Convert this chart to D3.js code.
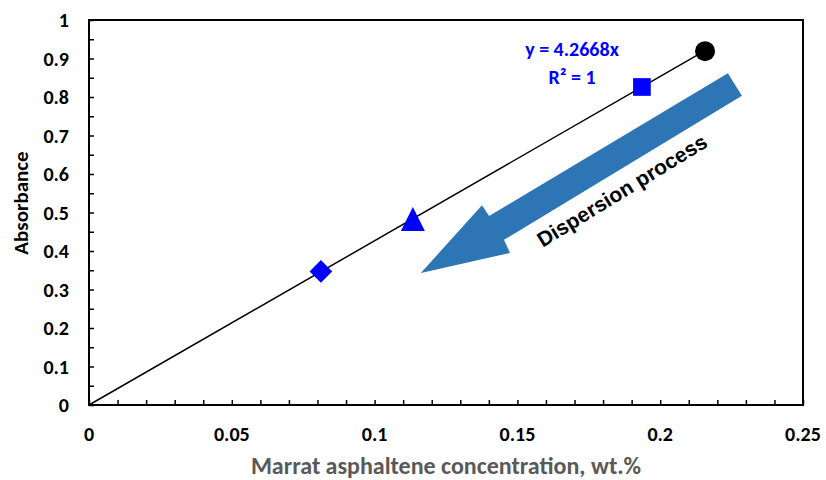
<!DOCTYPE html>
<html lang="en">
<head>
    <meta charset="UTF-8">
    <title>Absorbance vs concentration</title>
    <script src="https://d3js.org/d3.v7.min.js"></script>
    <style>
        body { margin: 0; background: #fff; }
        text { font-family: Calibri, Carlito, Lato, sans-serif; font-weight: bold; }
        .tick-label { font-size: 20px; fill: #000; }
        .frame { fill: none; stroke: #000; stroke-width: 2px; }
    </style>
</head>
<body>
    <svg width="826" height="480"></svg>
    <script>
        // measured points (concentration wt.%, absorbance)
        const conc = [0.2157, 0.1936, 0.1134, 0.0812];
        const absorb = [0.919, 0.826, 0.483, 0.347];
        const symbols = ["circle", "square", "triangle", "diamond"];
        const colors = ["#000000", "#0000ff", "#0000ff", "#0000ff"];

        const slope = 4.2668;
        const fitRange = [0, 0.2157];

        const xTicks = [0, 0.05, 0.1, 0.15, 0.2, 0.25];
        const yTicks = [0, 0.1, 0.2, 0.3, 0.4, 0.5, 0.6, 0.7, 0.8, 0.9, 1];

        // arrow outline in data units
        const arrowX = [0.2237, 0.2286, 0.1453, 0.1474, 0.1162, 0.1376, 0.1401];
        const arrowY = [0.862, 0.803, 0.429, 0.395, 0.343, 0.519, 0.491];

        const margin = { left: 89, right: 23, top: 20, bottom: 75 };
        const width = 826, height = 480;

        const svg = d3.select("svg");

        const x = d3.scaleLinear().domain([0, 0.25]).range([margin.left, width - margin.right]);
        const y = d3.scaleLinear().domain([0, 1]).range([height - margin.bottom, margin.top]);

        // inside ticks
        const xMinor = d3.range(0, 0.2501, 0.01);
        const yMinor = d3.range(0, 1.0001, 0.05);

        svg.append("g")
            .attr("transform", "translate(0," + y(0) + ")")
            .call(d3.axisBottom(x).tickValues(xMinor).tickSize(-5).tickFormat(""))
            .call(g => g.select(".domain").remove())
            .selectAll("line").attr("stroke", "#000").attr("stroke-width", 1.5);

        svg.append("g")
            .attr("transform", "translate(" + x(0) + ",0)")
            .call(d3.axisLeft(y).tickValues(yMinor).tickSize(-5).tickFormat(""))
            .call(g => g.select(".domain").remove())
            .selectAll("line").attr("stroke", "#000").attr("stroke-width", 1.5);

        // tick labels
        svg.selectAll(".xl")
            .data(xTicks)
            .enter().append("text")
            .attr("class", "tick-label")
            .attr("x", d => x(d))
            .attr("y", 441)
            .attr("text-anchor", "middle")
            .text(d => d);

        svg.selectAll(".yl")
            .data(yTicks)
            .enter().append("text")
            .attr("class", "tick-label")
            .attr("x", 69)
            .attr("y", d => y(d))
            .attr("dy", "0.35em")
            .attr("text-anchor", "end")
            .text(d => d);

        // frame
        svg.append("rect")
            .attr("class", "frame")
            .attr("x", x(0))
            .attr("y", y(1))
            .attr("width", x(0.25) - x(0))
            .attr("height", y(0) - y(1));

        // trend line
        svg.append("line")
            .attr("x1", x(fitRange[0])).attr("y1", y(slope * fitRange[0]))
            .attr("x2", x(fitRange[1])).attr("y2", y(slope * fitRange[1]))
            .attr("stroke", "#000").attr("stroke-width", 1.5);

        // arrow
        svg.append("polygon")
            .attr("points", arrowX.map((d, i) => x(d) + "," + y(arrowY[i])).join(" "))
            .attr("fill", "#2e75b6");

        svg.append("text")
            .attr("transform", "translate(" + x(0.1866) + "," + y(0.557) + ") rotate(-31.5)")
            .attr("text-anchor", "middle")
            .attr("dy", "0.35em")
            .style("font-family", "'Liberation Sans', Arial, sans-serif")
            .style("font-size", "21px")
            .attr("fill", "#000")
            .text("Dispersion process");

        // markers
        const tri = {
            draw(ctx, size) {
                const h = Math.sqrt(size);
                ctx.moveTo(0, -h / 2);
                ctx.lineTo(h / 2, h / 2);
                ctx.lineTo(-h / 2, h / 2);
                ctx.closePath();
            }
        };
        const symType = { circle: d3.symbolCircle, square: d3.symbolSquare, triangle: tri, diamond: d3.symbolSquare };
        const symSize = { circle: 314, square: 313, triangle: 576, diamond: 256 };

        svg.selectAll(".pt")
            .data(conc)
            .enter().append("path")
            .attr("transform", (d, i) => "translate(" + x(d) + "," + y(absorb[i]) + ")" + (symbols[i] === "diamond" ? " rotate(45)" : ""))
            .attr("d", (d, i) => d3.symbol(symType[symbols[i]], symSize[symbols[i]])())
            .attr("fill", (d, i) => colors[i]);

        // equation
        svg.append("text")
            .attr("x", 572).attr("y", 56)
            .attr("text-anchor", "middle")
            .attr("fill", "#0000ff")
            .style("font-size", "20px")
            .text("y = " + slope + "x");
        svg.append("text")
            .attr("x", 572).attr("y", 84)
            .attr("text-anchor", "middle")
            .attr("fill", "#0000ff")
            .style("font-size", "20px")
            .text("R² = 1");

        // axis titles
        svg.append("text")
            .attr("x", (x(0) + x(0.25)) / 2)
            .attr("y", 474)
            .attr("text-anchor", "middle")
            .attr("fill", "#595959")
            .style("font-size", "24px")
            .text("Marrat asphaltene concentration, wt.%");

        svg.append("text")
            .attr("transform", "translate(28,203) rotate(-90)")
            .attr("text-anchor", "middle")
            .attr("fill", "#000")
            .style("font-size", "21px")
            .text("Absorbance");
    </script>
</body>
</html>
